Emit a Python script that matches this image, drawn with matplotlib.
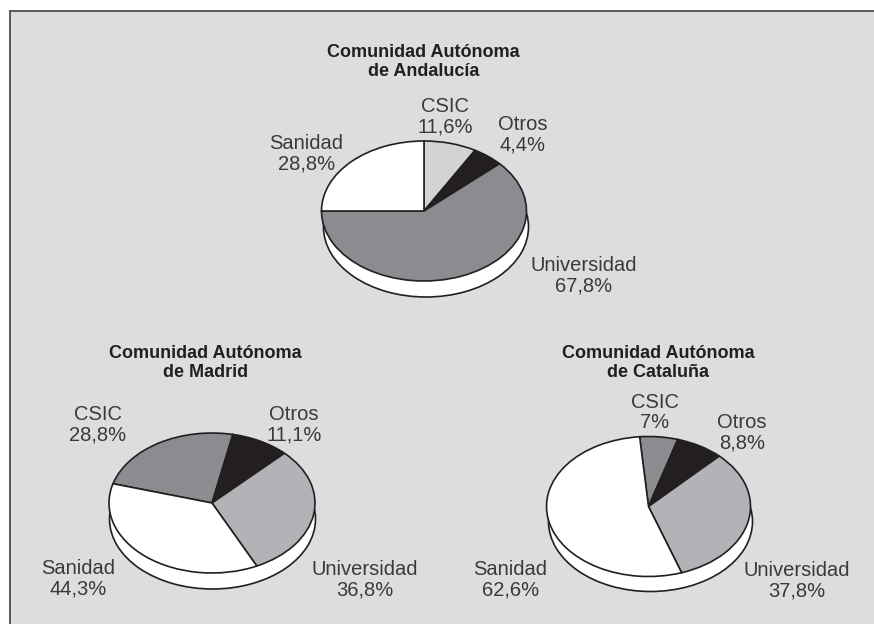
#!/usr/bin/env python3
import matplotlib
matplotlib.use('agg')
import matplotlib.pyplot as plt
from matplotlib.patches import Rectangle

W, H = 874, 624

cats = ['CSIC', 'Otros', 'Universidad', 'Sanidad']

# printed percentages
and_vals = ['11,6%', '4,4%', '67,8%', '28,8%']
mad_vals = ['28,8%', '11,1%', '36,8%', '44,3%']
cat_vals = ['7%', '8,8%', '37,8%', '62,6%']

# slice sizes, the printed figures except Andalucia where the drawn slices differ
and_sizes = [8.3, 4.9, 61.8, 25.0]
mad_sizes = [28.8, 11.1, 36.8, 44.3]
cat_sizes = [7.0, 8.8, 37.8, 62.6]

BG = '#dcddde'
INK = '#231f20'
TXT = '#3a3a3c'
FONT = ['Liberation Sans', 'DejaVu Sans']


def put_text(x, y, s, **kw):
    # x, y in picture pixels
    plt.figtext(x / W, 1 - y / H, s, ha='center', va='center', family=FONT, **kw)


def draw_pie(sizes, colors, start, cx, cy, a, b, dx, dy):
    ax = plt.axes([(cx - 1.3 * a) / W, 1 - (cy + 1.5 * b) / H, 2.6 * a / W, 2.8 * b / H])
    ax.pie([1], colors=['white'], radius=1, center=(dx / a, -dy / b),
           wedgeprops={'edgecolor': INK, 'linewidth': 1.2})
    ax.pie(sizes, colors=colors, radius=1, startangle=start, counterclock=False,
           wedgeprops={'edgecolor': INK, 'linewidth': 1.2})
    ax.set_aspect('auto')
    ax.set_xlim(-1.3, 1.3)
    ax.set_ylim(-1.5, 1.3)
    ax.axis('off')


fig = plt.figure(figsize=(W / 100, H / 100), dpi=100, facecolor='white')

# grey panel, ruled on the top and left only
fig.add_artist(Rectangle((10 / W, 0), 1, 1 - 11 / H, transform=fig.transFigure,
                         facecolor=BG, edgecolor='none', zorder=-2))
fig.add_artist(plt.Line2D([10 / W, 10 / W], [0, 1 - 11 / H], color='#5a5a5c', lw=1.4, zorder=-1))
fig.add_artist(plt.Line2D([10 / W, 1], [1 - 11 / H, 1 - 11 / H], color='#5a5a5c', lw=1.4, zorder=-1))

draw_pie(and_sizes, ['#d1d3d4', INK, '#8a8c8f', 'white'], 90, 424, 211, 102.5, 70, 2, 16)
draw_pie(mad_sizes, ['#8a8c8f', INK, '#b1b3b6', 'white'], 164, 212, 503, 103, 70, 0.5, 16)
draw_pie(cat_sizes, ['#8a8c8f', INK, '#b1b3b6', 'white'], 95, 648.5, 506.5, 102, 70, 2, 15)

put_text(423.5, 62, 'Comunidad Autónoma\nde Andalucía', fontsize=13, fontweight='bold',
         color=INK, linespacing=1.2)
put_text(205.5, 363, 'Comunidad Autónoma\nde Madrid', fontsize=13, fontweight='bold',
         color=INK, linespacing=1.2)
put_text(658, 363, 'Comunidad Autónoma\nde Cataluña', fontsize=13, fontweight='bold',
         color=INK, linespacing=1.2)

and_pos = [(445.5, 117), (523, 135), (584, 276), (306.5, 154)]
mad_pos = [(98, 425), (294, 425), (365, 579.5), (78, 579)]
cat_pos = [(655, 412.5), (742, 433), (796.5, 580.5), (510.5, 580)]

for pos, vals in ((and_pos, and_vals), (mad_pos, mad_vals), (cat_pos, cat_vals)):
    for (x, y), name, v in zip(pos, cats, vals):
        put_text(x, y, name + '\n' + v, fontsize=14.5, color=TXT, linespacing=1.12)

plt.savefig('out.png', dpi=100, facecolor='white')
plt.close('all')
